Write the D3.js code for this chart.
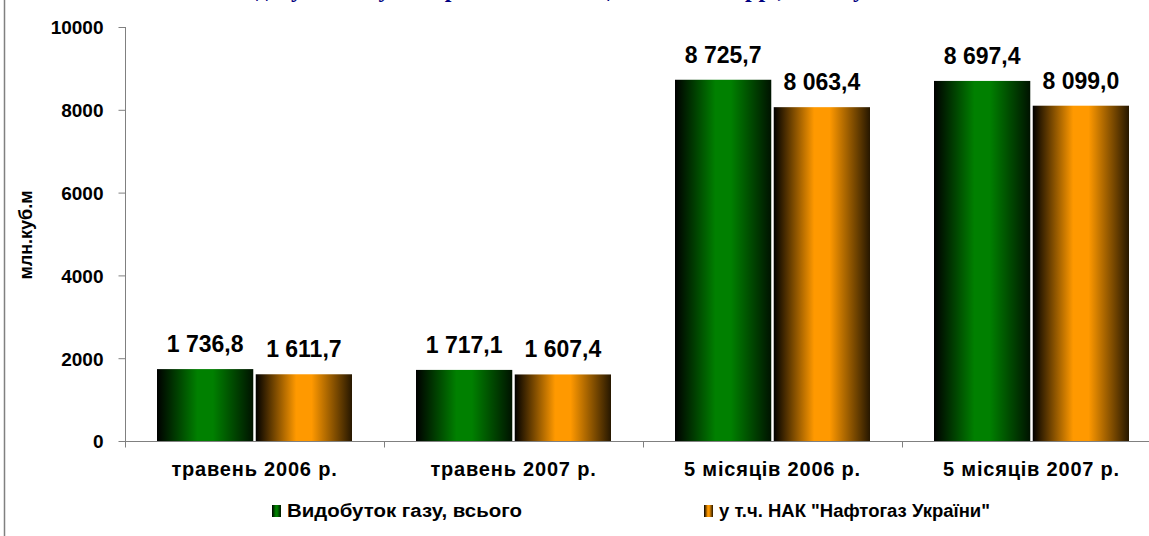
<!DOCTYPE html>
<html>
<head>
<meta charset="utf-8">
<script src="https://cdn.jsdelivr.net/npm/d3@7"></script>
<style>
  html, body { margin: 0; padding: 0; background: #fff; }
  svg { display: block; }
</style>
</head>
<body>
<svg id="chart" width="1149" height="536"></svg>
<script>
// ---- data ----
const categories = ["травень 2006 р.", "травень 2007 р.", "5 місяців 2006 р.", "5 місяців 2007 р."];
const seriesNames = ["Видобуток газу, всього", "у т.ч. НАК \"Нафтогаз України\""];
const totalValues = [1736.8, 1717.1, 8725.7, 8697.4];
const naftogazValues = [1611.7, 1607.4, 8063.4, 8099.0];
const yTicks = [0, 2000, 4000, 6000, 8000, 10000];
const titleText = "Видобуток газу в Україні за 5 місяців 2006-2007 рр., млн.куб.м";
const yAxisLabel = "млн.куб.м";

const seriesValues = [totalValues, naftogazValues];
const seriesColors = ["#008000", "#ff9900"];
const seriesEdge = ["#000000", "#000000"];

const svg = d3.select("#chart");
const defs = svg.append("defs");
seriesColors.forEach((c, i) => {
  const g = defs.append("linearGradient").attr("id", "grad" + i)
    .attr("x1", "0%").attr("x2", "100%").attr("y1", "0%").attr("y2", "0%");
  g.append("stop").attr("offset", "0%").attr("stop-color", seriesEdge[i]);
  g.append("stop").attr("offset", "42%").attr("stop-color", c);
  g.append("stop").attr("offset", "58%").attr("stop-color", c);
  g.append("stop").attr("offset", "100%").attr("stop-color", d3.interpolateRgb(c, "#000")(0.85));
});

// chart frame (left edge visible)
svg.append("line").attr("x1", 4.5).attr("x2", 4.5).attr("y1", 0).attr("y2", 536)
  .attr("stroke", "#808080").attr("stroke-width", 1.5);

// title (mostly cropped above the view)
svg.append("text").attr("x", 226).attr("y", -3)
  .attr("font-family", "'Liberation Serif', 'Times New Roman', serif")
  .attr("font-weight", "bold").attr("font-size", 24).attr("fill", "#000080")
  .text(titleText);

const x0 = d3.scaleBand().domain(categories).range([125, 1161]).padding(0);
const x1 = d3.scaleBand().domain(d3.range(seriesNames.length))
  .range([32, 227]).paddingInner(0.025).paddingOuter(0);
const y = d3.scaleLinear().domain([0, 10000]).range([441, 27]);

// y axis
const yAxis = svg.append("g").attr("transform", "translate(125.5,0)")
  .call(d3.axisLeft(y).tickValues(yTicks).tickSize(7).tickPadding(15).tickFormat(d3.format("d")));
yAxis.selectAll("path, line").attr("stroke", "#808080");
yAxis.select(".domain").attr("d", "M0," + y(10000) + "V" + (y(0) + 0.5));
yAxis.selectAll("text").attr("font-family", "Arial, 'Liberation Sans', sans-serif")
  .attr("font-weight", "bold").attr("font-size", 19).attr("fill", "#000").attr("dy", "0.36em");

// x axis
const xAxisG = svg.append("g").attr("transform", "translate(0," + (y(0) + 0.5) + ")");
xAxisG.append("line").attr("x1", 125).attr("x2", 1161).attr("stroke", "#808080");
xAxisG.selectAll("line.tick").data(categories).enter().append("line")
  .attr("class", "tick")
  .attr("x1", d => Math.round(x0(d)) + 0.5).attr("x2", d => Math.round(x0(d)) + 0.5)
  .attr("y1", 0).attr("y2", 6).attr("stroke", "#808080");
xAxisG.selectAll("text").data(categories).enter().append("text")
  .attr("x", d => x0(d) + x0.bandwidth() / 2).attr("y", 34)
  .attr("text-anchor", "middle")
  .attr("font-family", "Arial, 'Liberation Sans', sans-serif")
  .attr("font-weight", "bold").attr("font-size", 20).attr("letter-spacing", 0.8).attr("fill", "#000")
  .text(d => d);

// y axis label
svg.append("text")
  .attr("transform", "translate(32,235) rotate(-90)")
  .attr("text-anchor", "middle")
  .attr("font-family", "Arial, 'Liberation Sans', sans-serif")
  .attr("font-weight", "bold").attr("font-size", 18).attr("fill", "#000")
  .text(yAxisLabel);

// bars
const fmt = v => {
  const s = v.toFixed(1).replace(".", ",");
  const [intPart, dec] = s.split(",");
  return intPart.replace(/\B(?=(\d{3})+(?!\d))/g, " ") + "," + dec;
};
seriesValues.forEach((vals, si) => {
  const g = svg.append("g");
  g.selectAll("rect").data(vals).enter().append("rect")
    .attr("x", (d, i) => x0(categories[i]) + x1(si))
    .attr("y", d => y(d))
    .attr("width", x1.bandwidth())
    .attr("height", d => y(0) - y(d))
    .attr("fill", "url(#grad" + si + ")");
  g.selectAll("text").data(vals).enter().append("text")
    .attr("x", (d, i) => x0(categories[i]) + x1(si) + x1.bandwidth() / 2)
    .attr("y", d => y(d) - 17)
    .attr("text-anchor", "middle")
    .attr("font-family", "Arial, 'Liberation Sans', sans-serif")
    .attr("font-weight", "bold").attr("font-size", 23).attr("fill", "#000")
    .text(d => fmt(d));
});

// legend
const legendX = [272, 704];
const legendTextW = [235, 271];
seriesNames.forEach((name, i) => {
  const g = svg.append("g").attr("transform", "translate(" + legendX[i] + ",0)");
  g.append("rect").attr("x", 0).attr("y", 505).attr("width", 9).attr("height", 12)
    .attr("fill", "url(#grad" + i + ")");
  g.append("text").attr("x", 15).attr("y", 517)
    .attr("font-family", "Arial, 'Liberation Sans', sans-serif")
    .attr("font-weight", "bold").attr("font-size", 18).attr("fill", "#000")
    .attr("textLength", legendTextW[i]).attr("lengthAdjust", "spacingAndGlyphs")
    .text(name);
});
</script>
</body>
</html>
